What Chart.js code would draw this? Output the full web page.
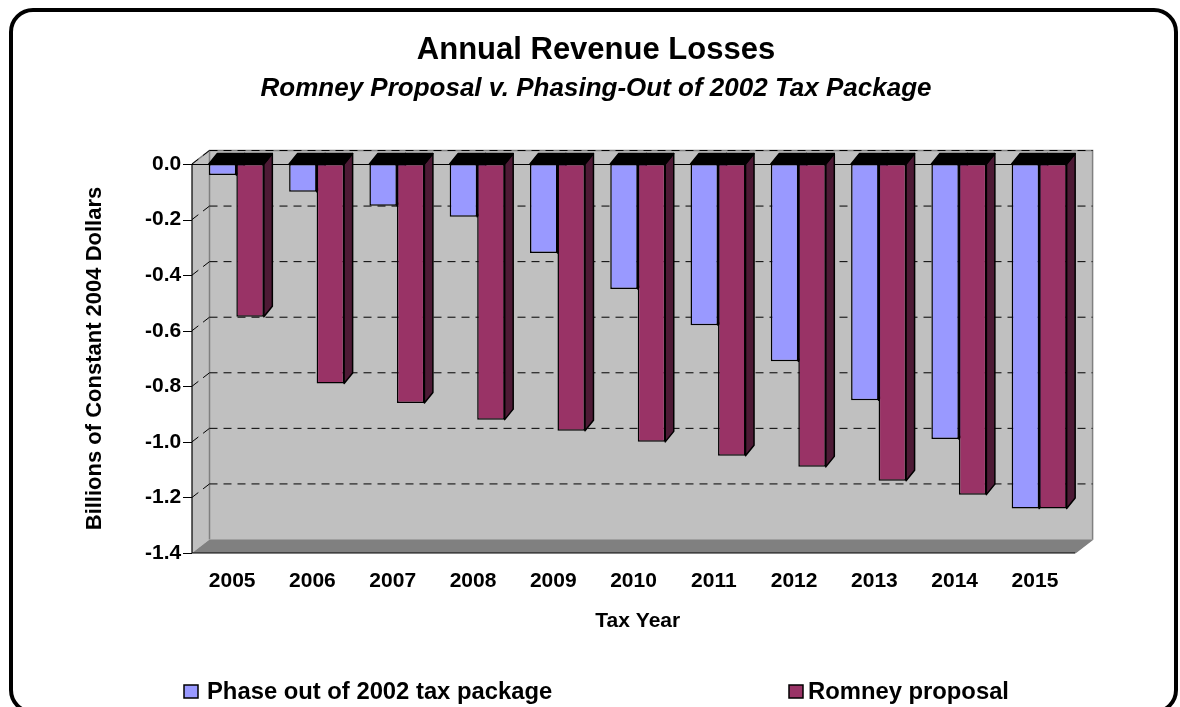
<!DOCTYPE html>
<html>
<head>
<meta charset="utf-8">
<title>Annual Revenue Losses</title>
<script src="https://cdn.jsdelivr.net/npm/chart.js@4.4.1/dist/chart.umd.min.js"></script>
<style>
  html, body { margin: 0; padding: 0; background: #ffffff; }
  #wrap { width: 1180px; height: 707px; position: relative; }
</style>
</head>
<body>
<div id="wrap"><canvas id="revenueChart" width="1180" height="707"></canvas></div>
<script>
// Tax years on the category axis
const taxYears = ['2005', '2006', '2007', '2008', '2009', '2010', '2011', '2012', '2013', '2014', '2015'];

// Annual revenue losses, billions of constant 2004 dollars
const phaseOutLosses = [-0.04, -0.10, -0.15, -0.19, -0.32, -0.45, -0.58, -0.71, -0.85, -0.99, -1.24];
const romneyLosses   = [-0.55, -0.79, -0.86, -0.92, -0.96, -1.00, -1.05, -1.09, -1.14, -1.19, -1.24];

// Value axis ticks
const valueTicks = [0, -0.2, -0.4, -0.6, -0.8, -1.0, -1.2, -1.4];

const seriesNames = ['Phase out of 2002 tax package', 'Romney proposal'];
const chartTitle = 'Annual Revenue Losses';
const chartSubtitle = 'Romney Proposal v. Phasing-Out of 2002 Tax Package';
const valueAxisTitle = 'Billions of Constant 2004 Dollars';
const categoryAxisTitle = 'Tax Year';

const FONT = "'Liberation Sans', Arial, Helvetica, sans-serif";
const BLUE = '#9999ff';
const MAROON = '#993366';
const MAROON_SIDE = '#4d1a35';
const BLUE_SIDE = '#4d4d80';
const WALL = '#c0c0c0';
const FLOOR = '#808080';

// Perspective offsets for the box walls and for each column
const WALL_DEPTH = { dx: 17.5, dy: -13.5 };
const BAR_DEPTH = { dx: 8.5, dy: -10.5 };
const FRONT_SHIFT = -4.2; // front plane sits slightly left of the column bands

// White page with a rounded black frame
const framePlugin = {
  id: 'frame',
  beforeDraw(chart) {
    const ctx = chart.ctx;
    ctx.save();
    ctx.fillStyle = '#ffffff';
    ctx.fillRect(0, 0, chart.width, chart.height);
    ctx.beginPath();
    ctx.roundRect(11, 10, 1165, 702, 22);
    ctx.lineWidth = 4;
    ctx.strokeStyle = '#000000';
    ctx.stroke();
    ctx.restore();
  }
};

// Walls, floor, gridlines and the depth faces of every column
const boxPlugin = {
  id: 'box3d',
  beforeDatasetsDraw(chart) {
    const { ctx, chartArea: ca, scales } = chart;
    const y = scales.y;
    const fl = ca.left + FRONT_SHIFT;
    const fr = ca.right + FRONT_SHIFT;
    const ft = y.getPixelForValue(y.max);
    const fb = y.getPixelForValue(y.min);
    const { dx, dy } = WALL_DEPTH;

    ctx.save();
    // back wall
    ctx.fillStyle = WALL;
    ctx.fillRect(fl + dx, ft + dy, fr - fl, fb - ft);
    // left wall
    ctx.beginPath();
    ctx.moveTo(fl, ft); ctx.lineTo(fl + dx, ft + dy); ctx.lineTo(fl + dx, fb + dy); ctx.lineTo(fl, fb);
    ctx.closePath();
    ctx.fill();
    // floor
    ctx.fillStyle = FLOOR;
    ctx.beginPath();
    ctx.moveTo(fl, fb); ctx.lineTo(fr, fb); ctx.lineTo(fr + dx, fb + dy); ctx.lineTo(fl + dx, fb + dy);
    ctx.closePath();
    ctx.fill();

    // wall edges
    ctx.strokeStyle = '#808080';
    ctx.lineWidth = 1.5;
    ctx.beginPath();
    ctx.moveTo(fl, ft); ctx.lineTo(fl + dx, ft + dy); ctx.lineTo(fr + dx, ft + dy);
    ctx.lineTo(fr + dx, fb + dy); ctx.lineTo(fr, fb);
    ctx.moveTo(fl + dx, ft + dy); ctx.lineTo(fl + dx, fb + dy);
    ctx.stroke();
    ctx.strokeStyle = '#a0a0a0';
    ctx.lineWidth = 1;
    ctx.beginPath();
    ctx.moveTo(fl + dx, fb + dy); ctx.lineTo(fr + dx, fb + dy);
    ctx.stroke();

    // dashed gridlines on back and left walls
    ctx.strokeStyle = '#000000';
    ctx.lineWidth = 1;
    ctx.setLineDash([8, 6]);
    valueTicks.forEach(v => {
      if (v === y.min) return;
      const py = y.getPixelForValue(v);
      ctx.beginPath();
      ctx.moveTo(fl, py); ctx.lineTo(fl + dx, py + dy);
      ctx.moveTo(fl + dx, py + dy); ctx.lineTo(fr + dx, py + dy);
      ctx.stroke();
    });
    ctx.setLineDash([]);

    // tick marks and front axis lines
    ctx.lineWidth = 1.2;
    ctx.beginPath();
    valueTicks.forEach(v => {
      const py = Math.round(y.getPixelForValue(v)) + 0.5;
      ctx.moveTo(fl - 9, py); ctx.lineTo(fl, py);
    });
    ctx.moveTo(fl, ft); ctx.lineTo(fl, fb);
    ctx.moveTo(fl, fb); ctx.lineTo(fr, fb);
    ctx.moveTo(fl, ft + 0.5); ctx.lineTo(fr, ft + 0.5);
    ctx.stroke();

    // depth faces of the columns: sides first, then tops
    const bars = [];
    chart.data.datasets.forEach((ds, i) => {
      const meta = chart.getDatasetMeta(i);
      meta.data.forEach(el => bars.push({ el, side: ds.sideColor }));
    });
    const b = BAR_DEPTH;
    ctx.lineWidth = 1.5;
    ctx.strokeStyle = '#000000';
    ctx.lineJoin = 'round';
    bars.forEach(({ el, side }) => {
      const p = el.getProps(['x', 'y', 'base', 'width'], true);
      const r = p.x + p.width / 2;
      ctx.fillStyle = side;
      ctx.beginPath();
      ctx.moveTo(r, p.base); ctx.lineTo(r + b.dx, p.base + b.dy);
      ctx.lineTo(r + b.dx, p.y + b.dy); ctx.lineTo(r, p.y);
      ctx.closePath();
      ctx.fill();
      ctx.stroke();
    });
    bars.forEach(({ el }) => {
      const p = el.getProps(['x', 'y', 'base', 'width'], true);
      const l = p.x - p.width / 2;
      const r = p.x + p.width / 2;
      ctx.fillStyle = '#000000';
      ctx.beginPath();
      ctx.moveTo(l, p.base); ctx.lineTo(r, p.base);
      ctx.lineTo(r + b.dx, p.base + b.dy); ctx.lineTo(l + b.dx, p.base + b.dy);
      ctx.closePath();
      ctx.fill();
      ctx.stroke();
    });
    ctx.restore();
  }
};

// Legend row along the bottom of the frame
const legendRowPlugin = {
  id: 'legendRow',
  afterDraw(chart) {
    const ctx = chart.ctx;
    const boxX = [184, 789];
    const textX = [207, 808];
    ctx.save();
    ctx.font = 'bold 23.8px ' + FONT;
    ctx.textBaseline = 'middle';
    ctx.textAlign = 'left';
    chart.data.datasets.forEach((ds, i) => {
      ctx.fillStyle = ds.backgroundColor;
      ctx.fillRect(boxX[i], 685, 14, 13);
      ctx.lineWidth = 1.5;
      ctx.strokeStyle = '#000000';
      ctx.strokeRect(boxX[i], 685, 14, 13);
      ctx.fillStyle = '#000000';
      ctx.fillText(ds.label, textX[i], 692);
    });
    ctx.restore();
  }
};

new Chart(document.getElementById('revenueChart'), {
  type: 'bar',
  data: {
    labels: taxYears,
    datasets: [
      {
        label: seriesNames[0],
        data: phaseOutLosses,
        backgroundColor: BLUE,
        sideColor: BLUE_SIDE,
        borderColor: '#000000',
        borderWidth: 1.5,
        borderSkipped: false,
        categoryPercentage: 0.685,
        barPercentage: 1.0,
        yAxisID: 'y'
      },
      {
        label: seriesNames[1],
        data: romneyLosses,
        backgroundColor: MAROON,
        sideColor: MAROON_SIDE,
        borderColor: '#000000',
        borderWidth: 1.5,
        borderSkipped: false,
        categoryPercentage: 0.685,
        barPercentage: 1.0,
        yAxisID: 'y'
      }
    ]
  },
  options: {
    responsive: false,
    animation: false,
    devicePixelRatio: 1,
    layout: { padding: { left: 20, right: 8, top: 20, bottom: 54 } },
    plugins: {
      legend: { display: false },
      tooltip: { enabled: false },
      title: {
        display: true,
        text: chartTitle,
        color: '#000000',
        font: { family: FONT, size: 31, weight: 'bold' },
        padding: { top: 11.9, bottom: 0 }
      },
      subtitle: {
        display: true,
        text: chartSubtitle,
        color: '#000000',
        font: { family: FONT, size: 26, weight: 'bold', style: 'italic' },
        padding: { top: 4.3, bottom: 59.4 }
      }
    },
    scales: {
      x: {
        grid: { display: false },
        border: { display: false },
        ticks: {
          color: '#000000',
          font: { family: FONT, size: 21, weight: 'bold' },
          padding: 7.4,
          labelOffset: FRONT_SHIFT,
          maxRotation: 0
        },
        title: {
          display: true,
          text: categoryAxisTitle,
          color: '#000000',
          font: { family: FONT, size: 21, weight: 'bold' },
          padding: { top: 0, bottom: 18.9 }
        },
        afterFit(scale) { scale.height = 100; }
      },
      y: {
        position: 'left',
        min: -1.4,
        max: 0,
        grid: { display: false, drawTicks: false },
        border: { display: false },
        ticks: {
          stepSize: 0.2,
          color: '#000000',
          padding: 15,
          font: { family: FONT, size: 21, weight: 'bold' },
          callback: v => (Math.abs(v) < 1e-9 ? 0 : v).toFixed(1)
        },
        afterBuildTicks(scale) { scale.ticks = valueTicks.map(v => ({ value: v })); },
        title: {
          display: true,
          text: valueAxisTitle,
          color: '#000000',
          font: { family: FONT, size: 22, weight: 'bold' },
          padding: { top: 61.8, bottom: 0 }
        },
        afterFit(scale) { scale.width = 176.2; }
      },
      yRight: {
        position: 'right',
        display: true,
        grid: { display: false },
        border: { display: false },
        ticks: { display: false },
        afterFit(scale) { scale.width = 92.7; }
      }
    }
  },
  plugins: [framePlugin, boxPlugin, legendRowPlugin]
});
</script>
</body>
</html>
